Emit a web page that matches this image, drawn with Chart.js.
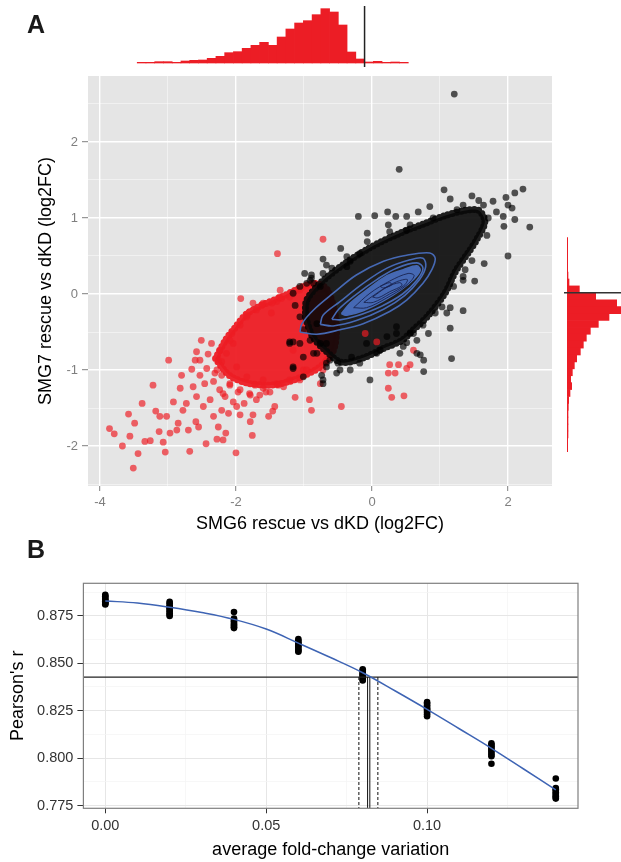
<!DOCTYPE html>
<html><head><meta charset="utf-8">
<script src="https://cdn.jsdelivr.net/npm/chart.js@4/dist/chart.umd.min.js"></script>
<style>
html,body{margin:0;padding:0;background:#fff;}
#wrap{position:relative;width:621px;height:862px;overflow:hidden;background:#fff;}
.cv{position:absolute;left:0px;}
.lab{position:absolute;font:bold 25px 'Liberation Sans',Arial,sans-serif;line-height:25px;color:#1a1a1a;}
</style></head><body>
<div id="wrap">
<div class="cv" style="top:0px"><canvas id="cScatter" width="621" height="540"></canvas></div>
<div class="cv" style="top:0px"><canvas id="cTop" width="621" height="70"></canvas></div>
<div class="cv" style="top:0px"><canvas id="cRight" width="621" height="540"></canvas></div>
<div class="cv" style="top:530px"><canvas id="cB" width="621" height="332"></canvas></div>
<div class="lab" style="left:27px;top:12px">A</div>
<div class="lab" style="left:27px;top:537px">B</div>
</div>
<script>
// ---------------- Panel A data ----------------
const xGridA = [-4,-3,-2,-1,0,1,2];
const xTickValuesA = [-4,-2,0,2];
const xTickLabelsA = ['-4','-2','0','2'];
const yGridA = [-2.5,-2,-1.5,-1,-0.5,0,0.5,1,1.5,2,2.5];
const yTickValuesA = [-2,-1,0,1,2];
const yTickLabelsA = ['-2','-1','0','1','2'];

// top histogram (SMG6 log2FC), bin centres and counts
const topHistCenters = [-3.825,-3.675,-3.525,-3.375,-3.225,-3.075,-2.925,-2.775,-2.625,-2.475,-2.325,-2.175,-2.025,-1.875,-1.725,-1.575,-1.425,-1.275,-1.125,-0.975,-0.825,-0.675,-0.525,-0.375,-0.225,-0.075,0.075,0.225,0.375,0.525,0.675];
const topHistCounts = [2,2,4,4,2,6,8,9,14,20,31,34,44,53,62,53,78,102,120,127,145,163,153,114,33,12,3,5,2,3,2];

// right histogram (SMG7 log2FC)
const rightHistCenters = [0.75,0.65,0.55,0.45,0.35,0.25,0.15,0.05,-0.05,-0.15,-0.25,-0.35,-0.45,-0.55,-0.65,-0.75,-0.85,-0.95,-1.05,-1.15,-1.25,-1.35,-1.45,-1.55,-1.65,-1.75,-1.85,-1.95,-2.05,-2.15,-2.25];
const rightHistCounts = [1,1,1,1,1,2,5,36,85,148,185,125,93,69,57,48,39,28,21,15,10,13,8,4,3,2,2,2,2,1,1];

// individual red points (x, y)
const redPoints = [[-3.86,-1.77],[-3.79,-1.84],[-3.67,-2.00],[-3.56,-1.87],[-3.51,-2.29],[-3.58,-1.58],[-3.49,-1.70],[-3.44,-2.10],[-3.38,-1.44],[-3.34,-1.94],
[-3.26,-1.93],[-3.22,-1.20],[-3.18,-1.54],[-3.13,-1.81],[-3.12,-1.61],[-3.07,-1.95],[-3.04,-2.08],[-3.02,-1.61],[-2.99,-0.87],[-2.97,-1.83],
[-2.92,-1.42],[-2.87,-1.79],[-2.85,-1.70],[-2.82,-1.24],[-2.80,-1.07],[-2.78,-1.53],[-2.73,-1.44],[-2.70,-1.79],[-2.68,-2.07],[-2.65,-0.99],
[-2.63,-1.22],[-2.59,-1.68],[-2.58,-1.35],[-2.55,-1.75],[-2.53,-0.87],[-2.51,-0.61],[-2.48,-1.48],[-2.46,-1.18],[-2.44,-1.97],[-2.41,-0.79],
[-2.38,-1.39],[-2.36,-0.65],[-2.33,-1.61],[-2.31,-1.04],[-2.28,-1.91],[-2.26,-1.75],[-2.24,-1.26],[-2.21,-1.53],[-2.19,-1.92],[-2.16,-1.35],
[-2.15,-1.83],[-2.11,-1.57],[-2.09,-1.20],[-2.06,-0.52],[-2.04,-1.42],[-2.00,-2.09],[-1.99,-1.48],[-1.97,-1.29],[-1.94,-1.59],[-1.93,-0.06],
[-1.88,-1.44],[-1.84,-0.30],[-1.80,-1.31],[-1.79,-1.68],[-1.76,-1.86],[-1.75,-0.12],[-1.72,-1.20],[-1.70,-1.39],[-1.65,-1.33],[-1.60,-1.24],
[-1.56,-1.29],[-1.46,-1.54],[-1.43,-1.48],[-1.35,0.05],[-1.33,-0.06],[-1.30,-1.22],[-1.13,-1.36],[-0.92,-1.39],[-0.89,-1.53],[-1.60,-0.12],
[-1.70,-0.21],[-0.45,-1.48],[-1.52,-1.61],[-1.75,-1.59],[0.24,-1.04],[0.34,-1.04],[0.26,-0.93],[0.39,-0.93],[0.51,-0.98],[0.56,-0.93],
[0.24,-1.24],[0.29,-1.36],[0.47,-1.34],[0.61,-0.74],[0.07,-0.63],[-0.10,-0.52],[-0.67,-0.87],[-0.72,-1.00],[-0.76,-1.18],[-1.01,-1.00],
[-1.16,-0.74],[-1.39,0.53],[-1.16,0.00],[-0.72,0.72],[-1.40,-0.10],[-1.21,-0.04],[-1.48,-0.25],[-2.04,-0.65],[-2.14,-0.78],[-2.21,-0.89],
[-2.28,-1.00],[-1.99,-0.96],[-1.84,-1.09],[-1.60,-1.13],[-1.40,-1.18],[-1.21,-1.13],[-1.06,-1.13],[-0.96,-1.00],
[-1.36,-0.04],[-1.47,-0.12],[-1.62,-0.14],[-1.84,-0.28],[-1.94,-0.41],[-2.09,-0.61],[-2.58,-0.76],[-2.24,-0.74],[-2.60,-0.87],[-2.26,-0.87],
[-2.43,-0.98],[-2.53,-1.07],[-2.21,-1.07],[-2.33,-1.15],[-2.09,-1.18],[-2.19,-1.31],[-1.94,-1.26],[-1.79,-1.33],[-1.50,-1.29],[-1.38,-1.20],
[-1.06,0.05]];

// individual black points (x, y)
const blackPoints = [[1.21,2.63],[0.40,1.64],[1.06,1.37],[1.15,1.25],[1.47,1.29],[1.57,1.23],[1.78,1.22],[1.97,1.27],[2.10,1.33],[2.22,1.38],
[2.00,1.17],[2.06,1.13],[2.32,0.88],[2.10,0.98],[1.94,0.89],[1.93,1.02],[1.83,1.08],[1.71,1.00],[1.64,1.17],[1.34,1.17],
[0.85,1.15],[0.68,1.08],[0.51,1.02],[0.35,1.02],[0.23,1.08],[0.04,1.03],[-0.20,1.02],[0.24,0.91],[0.51,0.84],[-0.07,0.80],
[-0.07,0.69],[-0.46,0.60],[-0.18,0.53],[1.69,0.77],[2.00,0.50],[1.65,0.40],[1.47,0.44],[1.51,0.17],[1.34,0.18],[1.34,-0.22],
[1.15,-0.18],[-0.99,0.27],[-0.72,0.27],[-0.86,0.14],[-0.59,0.34],[-0.32,0.43],[1.10,-0.25],[0.75,-0.41],[0.83,-0.52],[1.17,-0.85],
[0.76,-0.87],[0.76,-1.02],[-0.03,-1.13],[0.41,-0.78],[0.66,-0.78],[0.51,-0.64],[0.61,-0.52],[0.12,-0.74],[0.71,-0.80],[0.66,-0.61],
[0.46,-0.69],[0.36,-0.52],[0.07,-0.78],[-0.18,-0.91],[-0.32,-1.00],[-0.52,-1.04],[-0.72,-1.13],[-0.91,0.18],[-0.67,0.38],[-0.37,0.36],
[-1.16,0.01],[-1.06,0.10],[-0.72,0.46],[-0.96,0.14],[-0.89,0.21],[1.03,-0.17],[1.15,-0.45],[1.34,0.23],[1.37,0.32],[-0.89,0.25],
[-0.76,0.10],[-1.21,-0.63],[-1.16,-0.96],[-1.01,-1.09],[-0.72,-1.18],[-0.86,-0.78],[-0.76,-0.65],[-0.67,-0.91],[-1.16,-0.63],[-1.16,-0.98],
[-1.01,-0.83],[-0.81,-0.78],[-0.67,-0.65],[-0.62,-0.87],[-0.47,-1.00],[-0.91,-0.61],[-1.01,-0.47],[-0.81,-0.39],[-0.74,-1.07],[-0.37,0.49],
[0.26,0.82],[0.56,0.91],[0.90,1.00],[1.25,1.11],[1.20,0.10],[0.93,-0.25],[0.56,-0.52],[0.36,-0.43],[0.22,-0.56],[-0.08,-0.65],
[-0.30,-0.83],[-0.50,-0.91],[-0.67,-0.96],[-1.06,-0.65],[-1.21,-0.65],[-1.06,-0.30],[-1.13,-0.15]];

// outlines of the saturated (overplotted) point clouds
const redCloud = [[-2.30,-0.85],[-2.15,-0.60],[-2.02,-0.45],[-1.84,-0.26],[-1.60,-0.14],[-1.31,-0.03],[-1.06,0.08],[-0.86,0.14],[-0.68,0.08],[-0.57,-0.15],[-0.52,-0.45],[-0.57,-0.75],[-0.75,-0.95],[-0.99,-1.07],[-1.21,-1.15],[-1.50,-1.20],[-1.84,-1.17],[-2.10,-1.07],[-2.30,-0.85]];
const blackCloud = [[-0.98,-0.30],[-0.96,-0.08],[-0.74,0.16],[-0.40,0.40],[-0.03,0.61],[0.41,0.80],[0.78,0.93],[1.07,1.03],[1.37,1.10],[1.57,1.10],[1.66,0.95],[1.53,0.70],[1.42,0.55],[1.23,0.30],[1.08,0.02],[0.83,-0.28],[0.60,-0.48],[0.44,-0.61],[0.16,-0.72],[-0.13,-0.84],[-0.45,-0.90],[-0.70,-0.73],[-0.88,-0.55],[-0.98,-0.30]];

// 2-D density contours
const contour1 = [[-1.06,-0.50],[-1.03,-0.39],[-0.86,-0.21],[-0.57,0.01],[-0.23,0.25],[0.17,0.43],[0.51,0.51],[0.85,0.54],[0.93,0.47],[0.88,0.32],[0.75,0.14],[0.51,-0.08],[0.26,-0.23],[-0.13,-0.39],[-0.47,-0.47],[-0.81,-0.53],[-1.06,-0.50]];
const contour2 = [[-0.76,-0.40],[-0.72,-0.28],[-0.47,-0.10],[-0.13,0.14],[0.22,0.34],[0.56,0.45],[0.75,0.47],[0.79,0.36],[0.70,0.19],[0.48,-0.02],[0.17,-0.20],[-0.23,-0.35],[-0.57,-0.42],[-0.76,-0.40]];
const contour3 = [[-0.59,-0.33],[-0.49,-0.20],[-0.24,-0.01],[0.07,0.19],[0.36,0.34],[0.66,0.41],[0.75,0.34],[0.66,0.18],[0.45,0.00],[0.14,-0.16],[-0.23,-0.29],[-0.47,-0.34],[-0.59,-0.33]];
const contour4 = [[-0.45,-0.26],[-0.32,-0.12],[-0.08,0.05],[0.22,0.24],[0.46,0.32],[0.66,0.37],[0.71,0.31],[0.61,0.19],[0.42,0.05],[0.17,-0.09],[-0.13,-0.22],[-0.37,-0.28],[-0.45,-0.26]];
const ring1 = [[-0.27,-0.18],[-0.03,0.01],[0.26,0.17],[0.53,0.27],[0.62,0.24],[0.50,0.11],[0.22,-0.05],[-0.08,-0.18],[-0.27,-0.18]];
const ring2 = [[-0.12,-0.11],[0.12,0.04],[0.36,0.16],[0.52,0.19],[0.47,0.11],[0.26,0.00],[0.02,-0.11],[-0.12,-0.11]];
const ring3 = [[0.01,-0.04],[0.22,0.09],[0.41,0.15],[0.44,0.11],[0.26,0.03],[0.09,-0.05],[0.01,-0.04]];
const ring4 = [[0.12,0.10],[0.26,0.15],[0.29,0.12],[0.17,0.08],[0.12,0.10]];

// ---------------- Panel B data ----------------
const bVariation = [0, 0.02, 0.04, 0.06, 0.08, 0.10, 0.12, 0.14];
const rep000 = [0.8861,0.8853,0.8849,0.8838,0.8834,0.8827,0.8822,0.8817,0.8813,0.8810];
const rep002 = [0.8823,0.8816,0.8804,0.8797,0.8789,0.8781,0.8772,0.8763,0.8755,0.8749];
const rep004 = [0.8770,0.8735,0.8728,0.8721,0.8712,0.8704,0.8697,0.8690,0.8685];
const rep006 = [0.8627,0.8619,0.8611,0.8602,0.8597,0.8589,0.8581,0.8572,0.8566,0.8561];
const rep008 = [0.8468,0.8461,0.8455,0.8447,0.8441,0.8436,0.8429,0.8421,0.8415,0.8409];
const rep010 = [0.8295,0.8288,0.8279,0.8271,0.8262,0.8256,0.8249,0.8240,0.8231,0.8221];
const rep012 = [0.8078,0.8071,0.8063,0.8055,0.8046,0.8038,0.8027,0.8018,0.8010,0.7971];
const rep014 = [0.7893,0.7843,0.7836,0.7829,0.7821,0.7813,0.7806,0.7799,0.7792,0.7787];
const fitX = [0,0.01,0.02,0.03,0.04,0.05,0.06,0.07,0.08,0.09,0.10,0.11,0.12,0.13,0.14];
const fitY = [0.8828,0.8817,0.8795,0.8767,0.8731,0.8680,0.8606,0.8530,0.8450,0.8355,0.8257,0.8155,0.8052,0.7943,0.7833];
const refPearson = 0.8427;
const refVariation = [0.0815, 0.0822];
const refVariationCI = [0.0788, 0.0847];
const xGridB = [0,0.025,0.05,0.075,0.1,0.125];
const xTickValuesB = [0,0.05,0.1];
const xTickLabelsB = ['0.00','0.05','0.10'];
const yGridB = [0.775,0.7875,0.8,0.8125,0.825,0.8375,0.85,0.8625,0.875,0.8875];
const yTickValuesB = [0.775,0.8,0.825,0.85,0.875];
const yTickLabelsB = ['0.775','0.800','0.825','0.850','0.875'];

// ---------------- helpers ----------------
Chart.defaults.font.family = "'Liberation Sans', Arial, Helvetica, sans-serif";
const pairs = arr => arr.map(p => ({x: p[0], y: p[1]}));
const isMaj = (c, majors) => !!(c.tick && majors.includes(c.tick.value));
const labelCb = (majors, labels) => v => { const i = majors.indexOf(v); return i < 0 ? '' : labels[i]; };
const setTicks = vals => s => { s.ticks = vals.map(v => ({value: v})); };

const panelPlugin = {
  id: 'panel',
  beforeDraw(chart, args, o) {
    if (!o || !o.fill) return;
    const {ctx, chartArea: a} = chart;
    ctx.save(); ctx.fillStyle = o.fill; ctx.fillRect(a.left, a.top, a.right - a.left, a.bottom - a.top); ctx.restore();
  },
  afterDraw(chart, args, o) {
    if (!o || !o.border) return;
    const {ctx, chartArea: a} = chart;
    ctx.save(); ctx.strokeStyle = o.border; ctx.lineWidth = 1.2;
    ctx.strokeRect(a.left, a.top, a.right - a.left, a.bottom - a.top); ctx.restore();
  }
};

const base = {responsive: false, animation: false, devicePixelRatio: 1, events: [],
  plugins: {legend: {display: false}, tooltip: {enabled: false}}};

const X_MIN_A = -4.176, X_MAX_A = 2.647, Y_MIN_A = -2.526, Y_MAX_A = 2.868;
const CONTOUR_BLUE = '#4669B4';

// ---------------- scatter ----------------
const lineDs = (arr, extra) => Object.assign({type: 'line', data: pairs(arr), showLine: true, pointRadius: 0, tension: 0.35, fill: false}, extra);
const cloudDs = (arr, col, order) => lineDs(arr, {borderColor: col, backgroundColor: col, borderWidth: 7,
  borderDash: [0, 4.5], borderCapStyle: 'round', fill: 'shape', tension: 0.3, order: order});

new Chart(document.getElementById('cScatter'), {
  type: 'scatter',
  data: {datasets: [
    lineDs(ring4, {borderColor: 'rgba(25,35,80,0.9)', borderWidth: 1, order: 0}),
    lineDs(ring3, {borderColor: 'rgba(25,35,80,0.9)', borderWidth: 1, order: 0}),
    lineDs(ring2, {borderColor: 'rgba(25,35,80,0.9)', borderWidth: 1, order: 0}),
    lineDs(ring1, {borderColor: 'rgba(25,35,80,0.9)', borderWidth: 1, order: 0}),
    lineDs(contour4, {borderColor: CONTOUR_BLUE, backgroundColor: CONTOUR_BLUE, borderWidth: 1.5, fill: 'shape', order: 1}),
    lineDs(contour3, {borderColor: CONTOUR_BLUE, borderWidth: 1.6, order: 2}),
    lineDs(contour2, {borderColor: CONTOUR_BLUE, borderWidth: 1.6, order: 2}),
    lineDs(contour1, {borderColor: CONTOUR_BLUE, borderWidth: 1.6, order: 2}),
    {data: pairs(blackPoints), pointRadius: 3.4, backgroundColor: 'rgba(0,0,0,0.66)', borderWidth: 0, order: 4},
    {data: pairs(redPoints), pointRadius: 3.4, backgroundColor: 'rgba(238,28,36,0.68)', borderWidth: 0, order: 5},
    cloudDs(blackCloud, 'rgba(8,8,8,0.9)', 6),
    cloudDs(redCloud, 'rgba(237,28,36,0.95)', 7)
  ]},
  options: Object.assign({}, base, {
    layout: {padding: {left: 0, top: 76, right: 69, bottom: 0}},
    scales: {
      x: {type: 'linear', min: X_MIN_A, max: X_MAX_A, bounds: 'data',
        afterBuildTicks: setTicks(xGridA), afterFit: s => { s.height = 54; },
        border: {display: false},
        grid: {color: c => isMaj(c, xTickValuesA) ? '#FFFFFF' : 'rgba(255,255,255,0.6)',
               lineWidth: c => isMaj(c, xTickValuesA) ? 1.4 : 0.8,
               tickColor: c => isMaj(c, xTickValuesA) ? '#7F7F7F' : 'rgba(0,0,0,0)', tickLength: 5, tickWidth: 1},
        ticks: {autoSkip: false, maxRotation: 0, padding: 4, color: '#7F7F7F', font: {size: 13}, callback: labelCb(xTickValuesA, xTickLabelsA)},
        title: {display: true, text: 'SMG6 rescue vs dKD (log2FC)', color: '#000', font: {size: 18}, padding: {top: 0, bottom: 5}}},
      y: {type: 'linear', min: Y_MIN_A, max: Y_MAX_A, bounds: 'data',
        afterBuildTicks: setTicks(yGridA), afterFit: s => { s.width = 88; },
        border: {display: false},
        grid: {color: c => isMaj(c, yTickValuesA) ? '#FFFFFF' : 'rgba(255,255,255,0.6)',
               lineWidth: c => isMaj(c, yTickValuesA) ? 1.4 : 0.8,
               tickColor: c => isMaj(c, yTickValuesA) ? '#7F7F7F' : 'rgba(0,0,0,0)', tickLength: 6, tickWidth: 1},
        ticks: {autoSkip: false, padding: 4, color: '#7F7F7F', font: {size: 13}, callback: labelCb(yTickValuesA, yTickLabelsA)},
        title: {display: true, text: 'SMG7 rescue vs dKD (log2FC)', color: '#000', font: {size: 18}, padding: {top: 35, bottom: 0}}}
    },
    plugins: Object.assign({}, base.plugins, {panel: {fill: '#E5E5E5'}})
  }),
  plugins: [panelPlugin]
});

// ---------------- top histogram ----------------
new Chart(document.getElementById('cTop'), {
  type: 'bar',
  data: {datasets: [
    {type: 'line', data: [{x: 0, y: -12}, {x: 0, y: 171}], borderColor: '#222', borderWidth: 1.5, pointRadius: 0, order: 0},
    {type: 'bar', data: topHistCenters.map((c, i) => ({x: c, y: topHistCounts[i]})), backgroundColor: '#EC1D25',
     borderWidth: 0, barPercentage: 1, categoryPercentage: 1, order: 1}
  ]},
  options: Object.assign({}, base, {
    layout: {padding: {left: 88, right: 69, top: 6, bottom: 3}},
    scales: {
      x: {type: 'linear', min: X_MIN_A, max: X_MAX_A, bounds: 'data', display: false, afterBuildTicks: setTicks(xGridA)},
      y: {type: 'linear', min: -12, max: 171, bounds: 'data', display: false}
    }
  })
});

// ---------------- right histogram ----------------
new Chart(document.getElementById('cRight'), {
  type: 'bar',
  data: {datasets: [
    {type: 'line', data: [{x: -10, y: 0}, {x: 161, y: 0}], borderColor: '#333', borderWidth: 1.5, pointRadius: 0, order: 0},
    {type: 'bar', data: rightHistCenters.map((c, i) => ({x: rightHistCounts[i], y: c})), backgroundColor: '#EC1D25',
     borderWidth: 0, barPercentage: 1, categoryPercentage: 1, order: 1}
  ]},
  options: Object.assign({}, base, {
    indexAxis: 'y',
    layout: {padding: {left: 564, right: 0, top: 76, bottom: 54}},
    scales: {
      x: {type: 'linear', min: -10, max: 161, bounds: 'data', display: false},
      y: {type: 'linear', min: Y_MIN_A, max: Y_MAX_A, bounds: 'data', display: false, afterBuildTicks: setTicks(yGridA)}
    }
  })
});

// ---------------- Panel B ----------------
const repSets = [rep000, rep002, rep004, rep006, rep008, rep010, rep012, rep014];
const bPoints = [];
repSets.forEach((reps, i) => reps.forEach(r => bPoints.push({x: bVariation[i], y: r})));
const X_MIN_B = -0.0068, X_MAX_B = 0.1469, Y_MIN_B = 0.7736, Y_MAX_B = 0.8921;
const vline = (xv, extra) => Object.assign({type: 'line', data: [{x: xv, y: refPearson}, {x: xv, y: Y_MIN_B}], showLine: true,
  borderColor: '#222', borderWidth: 1.1, pointRadius: 0, fill: false, order: 1}, extra);

new Chart(document.getElementById('cB'), {
  type: 'scatter',
  data: {datasets: [
    {type: 'line', data: fitX.map((x, i) => ({x, y: fitY[i]})), showLine: true, borderColor: '#3E64B4', borderWidth: 1.5,
     pointRadius: 0, tension: 0.4, fill: false, order: 0},
    {type: 'line', data: [{x: X_MIN_B, y: refPearson}, {x: X_MAX_B, y: refPearson}], showLine: true, borderColor: '#222',
     borderWidth: 1.3, pointRadius: 0, fill: false, order: 1},
    vline(refVariation[0]), vline(refVariation[1]),
    vline(refVariationCI[0], {borderDash: [3, 2]}), vline(refVariationCI[1], {borderDash: [3, 2]}),
    {data: bPoints, pointRadius: 3.3, backgroundColor: '#000', borderWidth: 0, order: 2}
  ]},
  options: Object.assign({}, base, {
    layout: {padding: {left: 0, top: 53.3, right: 43, bottom: 0}},
    scales: {
      x: {type: 'linear', min: X_MIN_B, max: X_MAX_B, bounds: 'data',
        afterBuildTicks: setTicks(xGridB), afterFit: s => { s.height = 53.7; },
        border: {display: false},
        grid: {color: c => isMaj(c, xTickValuesB) ? '#E6E6E6' : '#F4F4F4',
               lineWidth: c => isMaj(c, xTickValuesB) ? 1 : 0.7,
               tickColor: c => isMaj(c, xTickValuesB) ? '#333' : 'rgba(0,0,0,0)', tickLength: 5, tickWidth: 1},
        ticks: {autoSkip: false, maxRotation: 0, padding: 4, color: '#333', font: {size: 14.5}, callback: labelCb(xTickValuesB, xTickLabelsB)},
        title: {display: true, text: 'average fold-change variation', color: '#000', font: {size: 18}, padding: {top: 0, bottom: 1}}},
      y: {type: 'linear', min: Y_MIN_B, max: Y_MAX_B, bounds: 'data',
        afterBuildTicks: setTicks(yGridB), afterFit: s => { s.width = 83.4; },
        border: {display: false},
        grid: {color: c => isMaj(c, yTickValuesB) ? '#E6E6E6' : '#F4F4F4',
               lineWidth: c => isMaj(c, yTickValuesB) ? 1 : 0.7,
               tickColor: c => isMaj(c, yTickValuesB) ? '#333' : 'rgba(0,0,0,0)', tickLength: 6, tickWidth: 1},
        ticks: {autoSkip: false, padding: 4, color: '#333', font: {size: 14.5}, callback: labelCb(yTickValuesB, yTickLabelsB)},
        title: {display: true, text: "Pearson's r", color: '#000', font: {size: 18}, padding: {top: 7, bottom: 0}}}
    },
    plugins: Object.assign({}, base.plugins, {panel: {fill: '#FFFFFF', border: '#7F7F7F'}})
  }),
  plugins: [panelPlugin]
});
</script>
</body></html>
